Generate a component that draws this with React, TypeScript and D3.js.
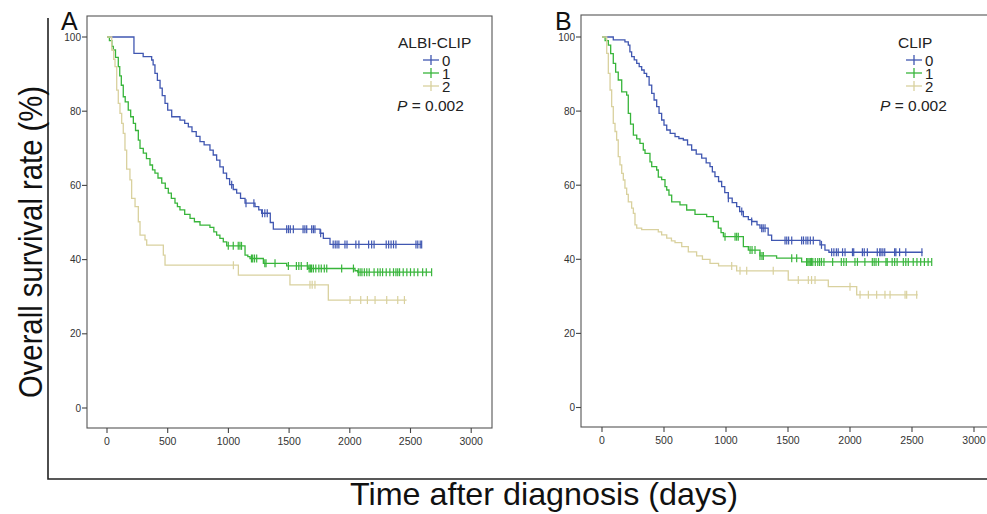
import React, { useEffect, useRef } from "react";
import * as d3 from "d3";

const groups = ["0", "1", "2"];
const groupColors = ["#4057b1", "#38b53b", "#d9d19e"];
const xTicks = [0, 500, 1000, 1500, 2000, 2500, 3000];
const yTicks = [0, 20, 40, 60, 80, 100];
const pValue = "0.002";

// A: ALBI-CLIP  -- [days, survival %] at each event
const albiSteps0 = [[0,100],[222,95.6],[298,94.7],[368,93.8],[380,92.5],[395,90.2],[415,88.3],[437,86.2],[455,84.2],[478,82.1],[500,80.3],[533,78.5],[601,77.6],[640,76.7],[670,75.8],[700,74.5],[735,73.2],[766,71.8],[800,70.9],[848,69.5],[875,68.2],[903,66.8],[930,65],[958,63.3],[985,61.8],[1010,60.2],[1040,58.9],[1068,57.9],[1100,56.5],[1137,55.2],[1219,54.3],[1250,53.4],[1274,52.5],[1345,50],[1370,48.2],[1755,47.1],[1782,45.7],[1837,44.1]];
const albiSteps1 = [[0,100],[20,99],[40,97.5],[52,96.5],[70,94.5],[93,92],[105,89.5],[118,87],[134,83.9],[150,82.5],[175,80.3],[195,78.5],[217,76.7],[235,74.8],[258,72.2],[272,70],[299,68.7],[325,67.2],[354,65.5],[375,64.2],[395,63.3],[420,62],[451,60.6],[480,59.2],[505,57.9],[530,56.5],[560,55.2],[580,54.3],[601,53.4],[640,52.2],[684,51.1],[720,50.2],[766,49.3],[848,48.7],[880,47.5],[903,46.6],[930,45.7],[958,44.8],[986,43.7],[1137,41.2],[1160,40.8],[1178,40.3],[1288,39],[1480,38.3],[1656,37.6],[2043,37],[2065,36.6]];
const albiSteps2 = [[0,100],[39,96.5],[55,94],[66,92],[80,85.7],[93,82.1],[107,79.4],[121,76.7],[134,74],[148,69.5],[162,64.4],[189,61.5],[203,56.5],[231,54.3],[258,50.2],[272,46.6],[313,45.3],[327,43.9],[464,41.2],[478,38.5],[1082,35.8],[1507,33.2],[1823,29.1]];
const albiEnd = [2592, 2674, 2468];
const albiCensor0 = [1027,1145,1210,1280,1300,1320,1480,1495,1510,1535,1615,1630,1645,1686,1700,1713,1760,1863,1880,1895,1910,1960,1977,2050,2075,2155,2180,2200,2300,2320,2340,2360,2380,2545,2560,2580,2592];
const albiCensor1 = [999,1040,1081,1095,1108,1190,1200,1215,1233,1300,1310,1384,1494,1560,1580,1600,1650,1665,1675,1685,1700,1720,1745,1765,1790,1810,1933,2030,2070,2085,2100,2120,2140,2160,2200,2230,2250,2270,2300,2330,2360,2380,2395,2410,2440,2470,2500,2530,2560,2600,2630,2674];
const albiCensor2 = [1041,1672,1690,1713,2002,2090,2145,2208,2304,2395,2450];

// B: CLIP
const clipSteps0 = [[0,100],[91,99.2],[185,98.7],[212,97.8],[225,96],[239,94.7],[260,93.8],[280,92.9],[300,92],[320,91.1],[340,90.2],[360,89.3],[380,87],[401,84.8],[420,83],[441,81.2],[460,79.4],[481,77.6],[500,76.2],[522,74.9],[550,74],[589,73.1],[620,72.6],[656,72.2],[690,70.9],[723,69.5],[760,68.4],[804,67.3],[840,66],[871,65],[890,63.6],[911,62.3],[940,61],[965,59.6],[990,58],[1019,56.5],[1050,55.3],[1086,54.2],[1110,52.9],[1140,51.5],[1180,50.7],[1207,50.2],[1250,49.3],[1274,48.4],[1340,46.5],[1368,45.1],[1758,43.9],[1798,42.5],[1830,41.9]];
const clipSteps1 = [[0,100],[25,99],[51,97.8],[70,95.5],[91,92.9],[110,90.5],[131,88.4],[159,85.2],[199,84.3],[212,79.4],[230,76.5],[253,73.5],[280,72.5],[306,71.3],[333,69.5],[347,68.6],[387,66.3],[401,65],[441,64.1],[454,62.2],[481,61.5],[508,59.6],[522,58.7],[540,57.3],[562,55.5],[629,54.7],[683,53.3],[750,52.1],[844,51.5],[898,50.2],[938,48.4],[960,47.2],[979,46.1],[1140,43.4],[1180,42.5],[1274,40.9],[1408,40.3],[1610,39.3]];
const clipSteps2 = [[0,100],[38,95.6],[51,90.2],[65,85.7],[78,81.2],[91,76.7],[105,74.5],[118,72.2],[131,67.7],[145,65.5],[159,63.2],[172,61.4],[185,59.2],[199,57.5],[212,55.5],[239,53.8],[253,52.4],[266,49.3],[280,48.4],[320,48],[454,47.4],[481,46.6],[522,45.7],[560,45],[589,44.5],[643,43.4],[696,42],[763,40.9],[810,40],[871,38.9],[940,38.2],[1086,36.9],[1502,34.4],[1825,32.6],[2054,30.4]];
const clipEnd = [2586, 2659, 2546];
const clipCensor0 = [1019,1127,1207,1288,1300,1315,1476,1490,1505,1530,1610,1625,1645,1660,1680,1704,1770,1852,1870,1890,1905,1940,1960,2020,2030,2100,2115,2140,2220,2240,2250,2265,2280,2360,2370,2400,2450,2580];
const clipCensor1 = [992,1073,1086,1099,1194,1210,1234,1274,1290,1301,1530,1570,1650,1660,1670,1680,1690,1700,1720,1740,1755,1770,1790,1860,1930,1950,1970,2040,2060,2120,2180,2195,2210,2230,2290,2300,2340,2360,2380,2430,2450,2470,2510,2540,2570,2600,2630,2659];
const clipCensor2 = [1046,1113,1167,1381,1583,1664,1690,1718,2000,2081,2148,2215,2282,2323,2444,2457,2538];

const FONT = "'Liberation Sans', Arial, Helvetica, sans-serif";

function survAt(steps: number[][], t: number) {
  let s = steps[0][1];
  for (const p of steps) if (p[0] <= t) s = p[1];
  return s;
}

function drawPanel(svg: any, o: any) {
  const x = d3.scaleLinear().domain([0, 3000]).range(o.xRange);
  const y = d3.scaleLinear().domain([0, 100]).range(o.yRange);
  const g = svg.append("g");

  // plot frame
  g.append("rect")
    .attr("x", o.box[0]).attr("y", o.box[1])
    .attr("width", o.box[2] - o.box[0]).attr("height", o.box[3] - o.box[1])
    .attr("fill", "none").attr("stroke", "#555").attr("stroke-width", 1.1);

  // y axis ticks
  yTicks.forEach((v) => {
    g.append("line").attr("x1", o.box[0] - 5).attr("x2", o.box[0])
      .attr("y1", y(v)).attr("y2", y(v)).attr("stroke", "#444").attr("stroke-width", 1.1);
    g.append("text").attr("x", o.box[0] - 6).attr("y", y(v) + 3.5)
      .attr("text-anchor", "end").attr("font-size", 10).attr("fill", "#333")
      .attr("font-family", FONT).text(v);
  });
  // x axis ticks
  xTicks.forEach((v) => {
    g.append("line").attr("x1", x(v)).attr("x2", x(v))
      .attr("y1", o.box[3]).attr("y2", o.box[3] + 5).attr("stroke", "#444").attr("stroke-width", 1.1);
    g.append("text").attr("x", x(v)).attr("y", o.box[3] + 17)
      .attr("text-anchor", "middle").attr("font-size", 10.5).attr("fill", "#333")
      .attr("font-family", FONT).text(v);
  });

  const line = d3.line<number[]>()
    .x((d) => x(d[0])).y((d) => y(d[1]))
    .curve(d3.curveStepAfter);

  o.steps.forEach((steps: number[][], i: number) => {
    const pts = steps.concat([[o.ends[i], steps[steps.length - 1][1]]]);
    g.append("path").attr("d", line(pts)).attr("fill", "none")
      .attr("stroke", groupColors[i]).attr("stroke-width", 1.3);
    g.selectAll(null).data(o.censors[i]).enter().append("line")
      .attr("x1", (t: number) => x(t)).attr("x2", (t: number) => x(t))
      .attr("y1", (t: number) => y(survAt(steps, t)) - 4)
      .attr("y2", (t: number) => y(survAt(steps, t)) + 4)
      .attr("stroke", groupColors[i]).attr("stroke-width", 1.2);
  });

  // panel letter
  g.append("text").attr("x", o.letterPos[0]).attr("y", o.letterPos[1])
    .attr("font-size", 25).attr("font-family", FONT).attr("fill", "#111").text(o.letter);

  // legend
  const lg = g.append("g").attr("font-family", FONT).attr("font-size", 15).attr("fill", "#222");
  lg.append("text").attr("x", o.titlePos[0]).attr("y", o.titlePos[1])
    .attr("font-size", 15.5).text(o.title);
  groups.forEach((k, i) => {
    const by = o.legendY + i * 13;
    const cx = o.symX;
    lg.append("line").attr("x1", cx - 8).attr("x2", cx + 8).attr("y1", by - 5.5).attr("y2", by - 5.5)
      .attr("stroke", groupColors[i]).attr("stroke-width", 1.3);
    lg.append("line").attr("x1", cx).attr("x2", cx).attr("y1", by - 10.5).attr("y2", by - 0.5)
      .attr("stroke", groupColors[i]).attr("stroke-width", 1.3);
    lg.append("text").attr("x", o.symX + 11).attr("y", by).text(k);
  });
  const pt = lg.append("text").attr("x", o.pPos[0]).attr("y", o.pPos[1]).attr("font-size", 15.5);
  pt.append("tspan").attr("font-style", "italic").text("P");
  pt.append("tspan").text(" = " + pValue);
}

export default function App() {
  const ref = useRef<SVGSVGElement>(null);

  useEffect(() => {
    const svg = d3.select(ref.current);
    svg.selectAll("*").remove();
    svg.append("rect").attr("width", 987).attr("height", 514).attr("fill", "#fff");

    // outer L frame
    svg.append("path").attr("d", "M48,18V479H987").attr("fill", "none")
      .attr("stroke", "#222").attr("stroke-width", 1.6);

    drawPanel(svg, {
      letter: "A", letterPos: [61, 30], title: "ALBI-CLIP", titlePos: [398, 47.5],
      steps: [albiSteps0, albiSteps1, albiSteps2], ends: albiEnd,
      censors: [albiCensor0, albiCensor1, albiCensor2],
      xRange: [107, 471.2], yRange: [408, 37], box: [87, 16, 492, 428],
      symX: 431, legendY: 65.5, pPos: [397, 111],
    });
    drawPanel(svg, {
      letter: "B", letterPos: [555, 30], title: "CLIP", titlePos: [898, 47.5],
      steps: [clipSteps0, clipSteps1, clipSteps2], ends: clipEnd,
      censors: [clipCensor0, clipCensor1, clipCensor2],
      xRange: [602, 974], yRange: [407.5, 37], box: [581, 15, 1010, 427],
      symX: 914, legendY: 65.5, pPos: [880, 111],
    });

    svg.append("text").attr("transform", "translate(42,242) rotate(-90)")
      .attr("text-anchor", "middle").attr("font-size", 34).attr("font-family", FONT)
      .attr("textLength", 312).attr("lengthAdjust", "spacingAndGlyphs")
      .attr("fill", "#111").text("Overall survival rate (%)");
    svg.append("text").attr("x", 544).attr("y", 505)
      .attr("text-anchor", "middle").attr("font-size", 31.5).attr("font-family", FONT)
      .attr("textLength", 388).attr("lengthAdjust", "spacingAndGlyphs")
      .attr("fill", "#111").text("Time after diagnosis (days)");
  }, []);

  return (
    <div style={{ position: "absolute", left: 0, top: 0 }}>
      <svg ref={ref} width={987} height={514} style={{ display: "block" }} />
    </div>
  );
}
